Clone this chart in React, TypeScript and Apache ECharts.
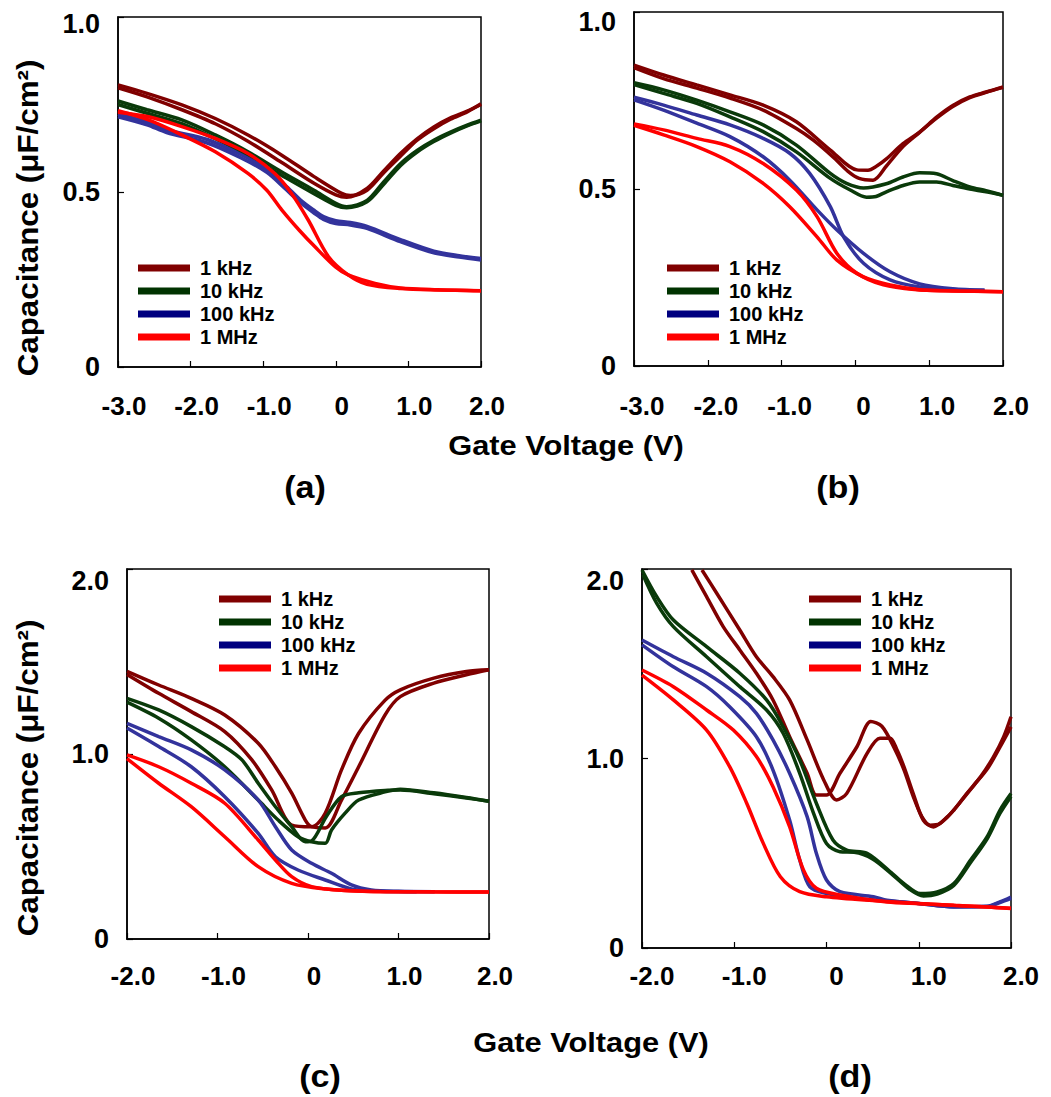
import React, { useEffect, useRef } from 'react';
import * as echarts from 'echarts';

// ---------- labels ----------
const FREQS = ['1 kHz', '10 kHz', '100 kHz', '1 MHz'];
const CURVE_COLORS = ['#800000', '#0a3a0a', '#33339c', '#ff0000'];
const LEGEND_COLORS = ['#800000', '#003300', '#000080', '#ff0000'];
const X_TICKS_TOP = ['-3.0', '-2.0', '-1.0', '0', '1.0', '2.0'];
const X_TICKS_BOTTOM = ['-2.0', '-1.0', '0', '1.0', '2.0'];
const Y_TICKS_TOP = ['0', '0.5', '1.0'];
const Y_TICKS_BOTTOM = ['0', '1.0', '2.0'];
const Y_NAME = 'Capacitance (\u03bcF/cm\u00b2)';
const X_NAME = 'Gate Voltage (V)';
const PANEL_TAGS = ['(a)', '(b)', '(c)', '(d)'];

// ---------- panel (a) ----------
const a1kA = [[-3, 0.806], [-2.6, 0.782], [-2.12, 0.749], [-1.66, 0.71], [-1.21, 0.663], [-0.75, 0.606], [-0.3, 0.544], [0.08, 0.496], [0.2, 0.49], [0.43, 0.505], [0.66, 0.555], [0.89, 0.602], [1.12, 0.648], [1.35, 0.681], [1.58, 0.708], [1.81, 0.729], [2.0, 0.752]];
const a1kB = [[-3, 0.798], [-2.6, 0.772], [-2.12, 0.735], [-1.66, 0.695], [-1.21, 0.645], [-0.75, 0.585], [-0.3, 0.525], [0, 0.492], [0.15, 0.485], [0.43, 0.51], [0.66, 0.56], [0.89, 0.61], [1.12, 0.652], [1.35, 0.686], [1.58, 0.712], [1.81, 0.731], [2.0, 0.75]];
const a10kA = [[-3, 0.76], [-2.6, 0.735], [-2.12, 0.706], [-1.66, 0.663], [-1.21, 0.615], [-0.75, 0.558], [-0.3, 0.505], [0, 0.468], [0.15, 0.458], [0.43, 0.476], [0.66, 0.529], [0.89, 0.581], [1.12, 0.619], [1.35, 0.648], [1.58, 0.671], [1.8, 0.69], [2.0, 0.705]];
const a10kB = [[-3, 0.75], [-2.6, 0.725], [-2.12, 0.695], [-1.66, 0.652], [-1.21, 0.603], [-0.75, 0.548], [-0.3, 0.495], [0, 0.462], [0.15, 0.455], [0.43, 0.472], [0.66, 0.522], [0.89, 0.575], [1.12, 0.614], [1.35, 0.644], [1.58, 0.668], [1.8, 0.688], [2.0, 0.703]];
const a100kA = [[-3, 0.722], [-2.6, 0.7], [-2.33, 0.678], [-1.77, 0.65], [-1.31, 0.607], [-0.95, 0.565], [-0.7, 0.52], [-0.49, 0.478], [-0.3, 0.448], [-0.17, 0.43], [0.0, 0.418], [0.2, 0.413], [0.43, 0.402], [0.89, 0.364], [1.35, 0.331], [1.7, 0.318], [2.0, 0.31]];
const a100kB = [[-3, 0.715], [-2.6, 0.692], [-2.33, 0.67], [-1.77, 0.64], [-1.31, 0.598], [-0.95, 0.556], [-0.7, 0.51], [-0.49, 0.47], [-0.3, 0.44], [-0.17, 0.422], [0.0, 0.41], [0.2, 0.406], [0.43, 0.396], [0.89, 0.358], [1.35, 0.326], [1.7, 0.314], [2.0, 0.306]];
const a1MA = [[-3, 0.728], [-2.58, 0.715], [-2.12, 0.687], [-1.66, 0.653], [-1.21, 0.61], [-0.84, 0.553], [-0.61, 0.496], [-0.38, 0.42], [-0.1, 0.315], [0.17, 0.263], [0.43, 0.236], [0.89, 0.224], [1.4, 0.22], [2.0, 0.218]];
const a1MB = [[-3, 0.732], [-2.58, 0.706], [-2.12, 0.663], [-1.66, 0.615], [-1.21, 0.553], [-0.95, 0.505], [-0.745, 0.449], [-0.5, 0.39], [-0.29, 0.344], [0, 0.285], [0.17, 0.263], [0.54, 0.239], [0.89, 0.226], [1.4, 0.221], [2.0, 0.218]];

// ---------- panel (b) ----------
const b1kA = [[-3, 0.85], [-2.6, 0.822], [-2.15, 0.794], [-1.7, 0.766], [-1.25, 0.737], [-0.8, 0.69], [-0.34, 0.61], [0.02, 0.554], [0.17, 0.553], [0.29, 0.565], [0.42, 0.585], [0.645, 0.628], [0.87, 0.661], [1.1, 0.703], [1.32, 0.736], [1.55, 0.76], [1.77, 0.774], [2.0, 0.788]];
const b1kB = [[-3, 0.843], [-2.6, 0.812], [-2.15, 0.785], [-1.7, 0.757], [-1.25, 0.723], [-0.8, 0.671], [-0.57, 0.638], [-0.3, 0.59], [-0.1, 0.55], [0.05, 0.53], [0.24, 0.525], [0.42, 0.565], [0.645, 0.62], [0.87, 0.66], [1.1, 0.7], [1.32, 0.733], [1.55, 0.758], [1.77, 0.773], [2.0, 0.787]];
const b10kA = [[-3, 0.8], [-2.6, 0.78], [-2.15, 0.751], [-1.7, 0.718], [-1.25, 0.681], [-0.8, 0.624], [-0.34, 0.544], [-0.12, 0.516], [0.11, 0.503], [0.42, 0.515], [0.645, 0.534], [0.87, 0.546], [1.1, 0.543], [1.32, 0.524], [1.55, 0.506], [1.77, 0.495], [2.0, 0.482]];
const b10kB = [[-3, 0.795], [-2.6, 0.77], [-2.15, 0.742], [-1.7, 0.704], [-1.25, 0.662], [-0.8, 0.605], [-0.34, 0.53], [-0.07, 0.497], [0.15, 0.477], [0.28, 0.479], [0.42, 0.492], [0.645, 0.51], [0.87, 0.52], [1.1, 0.52], [1.32, 0.51], [1.55, 0.5], [1.77, 0.492], [2.0, 0.482]];
const b100kA = [[-3, 0.759], [-2.6, 0.737], [-2.15, 0.709], [-1.7, 0.681], [-1.25, 0.643], [-0.89, 0.601], [-0.62, 0.544], [-0.34, 0.45], [-0.16, 0.365], [0.11, 0.29], [0.47, 0.243], [0.87, 0.223], [1.32, 0.216], [1.75, 0.214]];
const b100kB = [[-3, 0.752], [-2.6, 0.723], [-2.15, 0.686], [-1.7, 0.648], [-1.25, 0.591], [-0.89, 0.525], [-0.52, 0.441], [-0.25, 0.384], [0.11, 0.318], [0.47, 0.266], [0.87, 0.232], [1.32, 0.218], [1.75, 0.214]];
const b1MA = [[-3, 0.684], [-2.6, 0.667], [-2.15, 0.643], [-1.7, 0.62], [-1.25, 0.572], [-0.8, 0.497], [-0.52, 0.422], [-0.25, 0.318], [0.02, 0.262], [0.38, 0.229], [0.8, 0.216], [1.3, 0.212], [2.0, 0.21]];
const b1MB = [[-3, 0.68], [-2.6, 0.653], [-2.15, 0.62], [-1.7, 0.577], [-1.25, 0.516], [-0.89, 0.45], [-0.52, 0.365], [-0.25, 0.299], [0.11, 0.252], [0.47, 0.229], [0.9, 0.215], [1.4, 0.212], [2.0, 0.21]];

// ---------- panel (c) ----------
const c1kA = [[-2, 1.447], [-1.65, 1.373], [-1.29, 1.301], [-0.92, 1.211], [-0.55, 1.058], [-0.36, 0.931], [-0.18, 0.788], [-0.03, 0.643], [0.04, 0.607], [0.19, 0.6], [0.37, 0.751], [0.56, 0.931], [0.85, 1.21], [1.02, 1.31], [1.39, 1.383], [1.75, 1.428], [2.0, 1.455]];
const c1kB = [[-2, 1.43], [-1.65, 1.328], [-1.29, 1.229], [-0.92, 1.121], [-0.62, 0.968], [-0.4, 0.805], [-0.18, 0.616], [0.04, 0.607], [0.19, 0.68], [0.37, 0.914], [0.56, 1.112], [0.85, 1.29], [1.02, 1.347], [1.39, 1.41], [1.75, 1.446], [2.0, 1.455]];
const c10kA = [[-2, 1.301], [-1.65, 1.238], [-1.29, 1.148], [-0.92, 1.039], [-0.73, 0.968], [-0.55, 0.842], [-0.36, 0.715], [-0.18, 0.607], [-0.03, 0.526], [0.04, 0.53], [0.2, 0.66], [0.37, 0.769], [0.56, 0.79], [0.85, 0.803], [1.02, 0.805], [1.39, 0.785], [1.75, 0.762], [2.0, 0.745]];
const c10kB = [[-2, 1.28], [-1.65, 1.193], [-1.29, 1.076], [-0.92, 0.931], [-0.55, 0.751], [-0.33, 0.643], [-0.11, 0.553], [0.04, 0.526], [0.19, 0.517], [0.26, 0.589], [0.41, 0.68], [0.56, 0.751], [0.85, 0.795], [1.02, 0.81], [1.39, 0.79], [1.75, 0.765], [2.0, 0.745]];
const c100kA = [[-2, 1.166], [-1.65, 1.094], [-1.29, 1.022], [-0.92, 0.914], [-0.55, 0.751], [-0.36, 0.607], [-0.18, 0.481], [0.04, 0.409], [0.26, 0.355], [0.48, 0.292], [0.7, 0.265], [1.0, 0.258], [1.4, 0.256]];
const c100kB = [[-2, 1.14], [-1.65, 1.04], [-1.29, 0.931], [-0.92, 0.769], [-0.55, 0.571], [-0.36, 0.445], [-0.11, 0.373], [0.19, 0.319], [0.5, 0.268], [0.8, 0.258], [1.2, 0.256]];
const c1MA = [[-2, 0.995], [-1.65, 0.931], [-1.29, 0.842], [-0.92, 0.734], [-0.55, 0.535], [-0.36, 0.427], [-0.18, 0.337], [0.04, 0.283], [0.4, 0.262], [0.8, 0.257], [1.4, 0.255], [2.0, 0.254]];
const c1MB = [[-2, 0.975], [-1.65, 0.842], [-1.29, 0.715], [-0.92, 0.553], [-0.55, 0.391], [-0.18, 0.301], [0.2, 0.27], [0.6, 0.258], [1.2, 0.255], [2.0, 0.254]];

// ---------- panel (d) ----------
const d1kA = [[-1.46, 1.995], [-1.3, 1.854], [-1.12, 1.696], [-0.94, 1.573], [-0.76, 1.45], [-0.58, 1.309], [-0.4, 1.115], [-0.21, 0.922], [-0.11, 0.807], [0.0, 0.807], [0.146, 0.922], [0.33, 1.062], [0.48, 1.195], [0.6, 1.17], [0.73, 1.06], [0.84, 0.94], [0.94, 0.8], [1.035, 0.692], [1.125, 0.648], [1.23, 0.657], [1.38, 0.727], [1.52, 0.815], [1.67, 0.903], [1.81, 1.009], [1.92, 1.114], [2.0, 1.22]];
const d1kB = [[-1.35, 1.995], [-1.19, 1.872], [-0.94, 1.678], [-0.76, 1.537], [-0.58, 1.432], [-0.4, 1.309], [-0.21, 1.098], [-0.03, 0.887], [0.11, 0.781], [0.22, 0.816], [0.44, 1.027], [0.58, 1.107], [0.69, 1.107], [0.76, 1.05], [0.84, 0.956], [0.94, 0.815], [1.05, 0.674], [1.16, 0.639], [1.31, 0.692], [1.45, 0.77], [1.6, 0.86], [1.75, 0.95], [1.88, 1.06], [2.0, 1.167]];
const d10kA = [[-2, 1.995], [-1.84, 1.854], [-1.66, 1.731], [-1.3, 1.59], [-0.94, 1.45], [-0.65, 1.309], [-0.47, 1.168], [-0.29, 0.992], [-0.11, 0.764], [0.07, 0.57], [0.22, 0.517], [0.44, 0.5], [0.72, 0.39], [0.84, 0.34], [1.017, 0.287], [1.2, 0.296], [1.38, 0.34], [1.56, 0.463], [1.74, 0.586], [1.88, 0.727], [2.0, 0.815]];
const d10kB = [[-1.99, 1.97], [-1.84, 1.819], [-1.66, 1.696], [-1.3, 1.537], [-0.94, 1.379], [-0.65, 1.256], [-0.47, 1.133], [-0.29, 0.922], [-0.14, 0.711], [0.0, 0.552], [0.146, 0.508], [0.3, 0.505], [0.5, 0.47], [0.72, 0.385], [0.9, 0.31], [1.05, 0.275], [1.2, 0.285], [1.38, 0.33], [1.56, 0.45], [1.74, 0.575], [1.88, 0.71], [2.0, 0.8]];
const d100kA = [[-2, 1.625], [-1.66, 1.537], [-1.3, 1.45], [-0.94, 1.326], [-0.76, 1.238], [-0.58, 1.098], [-0.4, 0.922], [-0.21, 0.693], [-0.11, 0.5], [0.0, 0.359], [0.146, 0.297], [0.51, 0.271], [0.656, 0.252], [1.017, 0.234], [1.38, 0.217], [1.74, 0.22], [1.88, 0.243], [2.0, 0.269]];
const d100kB = [[-2, 1.6], [-1.66, 1.484], [-1.3, 1.379], [-1.05, 1.273], [-0.76, 1.115], [-0.58, 0.939], [-0.4, 0.675], [-0.29, 0.464], [-0.18, 0.323], [0.0, 0.288], [0.35, 0.26], [0.7, 0.248], [1.0, 0.235], [1.38, 0.218], [1.74, 0.219], [1.88, 0.24], [2.0, 0.262]];
const d1MA = [[-2, 1.467], [-1.66, 1.379], [-1.3, 1.256], [-1.01, 1.15], [-0.76, 1.01], [-0.58, 0.851], [-0.4, 0.64], [-0.25, 0.412], [-0.11, 0.315], [0.146, 0.28], [0.656, 0.243], [1.017, 0.234], [1.38, 0.225], [1.74, 0.217], [2.0, 0.208]];
const d1MB = [[-2, 1.44], [-1.66, 1.309], [-1.3, 1.15], [-1.05, 0.957], [-0.865, 0.764], [-0.685, 0.552], [-0.5, 0.376], [-0.29, 0.297], [0.0, 0.27], [0.5, 0.25], [1.0, 0.235], [1.4, 0.224], [1.74, 0.217], [2.0, 0.21]];

// ---------- layout ----------
const FONT = '"Liberation Sans", Arial, Helvetica, sans-serif';

const PANELS = [
  { grid: { left: 118, top: 17, width: 363, height: 350 }, xMin: -3, xTicks: X_TICKS_TOP, yMax: 1, yInt: 0.5, yTicks: Y_TICKS_TOP, xMargin: 26, xPad: 12, yTopShift: 7, legend: { left: 138, top: 258 }, curves: [[a1kA, a1kB], [a10kA, a10kB], [a100kA, a100kB], [a1MA, a1MB]] },
  { grid: { left: 634, top: 12, width: 369, height: 354 }, xMin: -3, xTicks: X_TICKS_TOP, yMax: 1, yInt: 0.5, yTicks: Y_TICKS_TOP, xMargin: 27, xPad: 16, yTopShift: 10, legend: { left: 667, top: 258 }, curves: [[b1kA, b1kB], [b10kA, b10kB], [b100kA, b100kB], [b1MA, b1MB]] },
  { grid: { left: 127, top: 569, width: 362, height: 370 }, xMin: -2, xTicks: X_TICKS_BOTTOM, yMax: 2, yInt: 1, yTicks: Y_TICKS_BOTTOM, xMargin: 24, xPad: 12, yTopShift: 12, legend: { left: 219, top: 589 }, curves: [[c1kA, c1kB], [c10kA, c10kB], [c100kA, c100kB], [c1MA, c1MB]] },
  { grid: { left: 642, top: 569, width: 369, height: 379 }, xMin: -2, xTicks: X_TICKS_BOTTOM, yMax: 2, yInt: 1, yTicks: Y_TICKS_BOTTOM, xMargin: 15, xPad: 20, yTopShift: 12, legend: { left: 809, top: 589 }, curves: [[d1kA, d1kB], [d10kA, d10kB], [d100kA, d100kB], [d1MA, d1MB]] },
];

const TITLE_POS = [
  { x: 28, y: 218, kind: 'y' },
  { x: 28, y: 778, kind: 'y' },
  { x: 566, y: 445, kind: 'x' },
  { x: 591, y: 1042, kind: 'x' },
];
const TAG_POS = [[305, 488], [838, 488], [320, 1077], [850, 1077]];

function buildOption() {
  const grid: any[] = [];
  const xAxis: any[] = [];
  const yAxis: any[] = [];
  const legend: any[] = [];
  const series: any[] = [];

  PANELS.forEach((p, pi) => {
    grid.push({ ...p.grid, show: true, borderColor: '#000', borderWidth: 1.5, backgroundColor: 'transparent' });
    xAxis.push({
      gridIndex: pi, type: 'value', min: p.xMin, max: 2, interval: 1,
      axisLine: { show: true, onZero: false, lineStyle: { color: '#000', width: 1.5 } },
      axisTick: { show: true, inside: true, length: 6, lineStyle: { color: '#000', width: 1.2 } },
      splitLine: { show: false },
      axisLabel: {
        show: true, showMinLabel: true, showMaxLabel: true, margin: p.xMargin,
        fontSize: 26, fontWeight: 'bold', fontFamily: FONT, color: '#000',
        padding: [0, 0, 0, p.xPad],
        formatter: (v: number) => p.xTicks[Math.round(v - p.xMin)] ?? '',
      },
    });
    const yLabelStyle = { fontSize: 27, fontWeight: 'bold', fontFamily: FONT, color: '#000' };
    yAxis.push({
      gridIndex: pi, type: 'value', min: 0, max: p.yMax, interval: p.yInt,
      axisLine: { show: true, onZero: false, lineStyle: { color: '#000', width: 1.5 } },
      axisTick: { show: true, inside: true, length: 6, lineStyle: { color: '#000', width: 1.2 } },
      splitLine: { show: false },
      axisLabel: {
        show: true, showMinLabel: true, showMaxLabel: true, margin: 18,
        ...yLabelStyle,
        formatter: (v: number) => {
          const idx = Math.round(v / p.yInt);
          const s = p.yTicks[idx] ?? '';
          return idx === p.yTicks.length - 1 ? `{t|${s}}` : s;
        },
        rich: { t: { ...yLabelStyle, padding: [p.yTopShift * 2, 0, 0, 0] } },
      },
    });
    legend.push({
      orient: 'vertical', left: p.legend.left, top: p.legend.top, padding: 0,
      itemWidth: 52, itemHeight: 7, itemGap: 3, icon: 'rect', selectedMode: false,
      textStyle: { fontSize: 20, lineHeight: 20, fontWeight: 'bold', fontFamily: FONT, color: '#000', padding: [0, 0, 0, 5] },
      data: FREQS.map((n, i) => ({ name: n, itemStyle: { color: LEGEND_COLORS[i] } })),
    });
    p.curves.forEach((pair, fi) => {
      pair.forEach((data) => {
        series.push({
          type: 'line', name: FREQS[fi], xAxisIndex: pi, yAxisIndex: pi,
          data, showSymbol: false, symbol: 'none', smooth: 0.3, silent: true,
          lineStyle: { width: 3.5, color: CURVE_COLORS[fi] },
          itemStyle: { color: CURVE_COLORS[fi] },
          z: 2 + fi,
        });
      });
    });
  });

  const graphic: any[] = [];
  TITLE_POS.forEach((t) => {
    if (t.kind === 'y') {
      graphic.push({
        type: 'text', x: t.x, y: t.y, rotation: Math.PI / 2, scaleX: 1.08,
        style: { text: Y_NAME, fontSize: 29, fontWeight: 'bold', fontFamily: FONT, fill: '#000', align: 'center', verticalAlign: 'middle' },
      });
    } else {
      graphic.push({
        type: 'text', x: t.x, y: t.y, scaleX: 1.1,
        style: { text: X_NAME, fontSize: 28, fontWeight: 'bold', fontFamily: FONT, fill: '#000', align: 'center', verticalAlign: 'middle' },
      });
    }
  });
  TAG_POS.forEach(([x, y], i) => {
    graphic.push({
      type: 'text', x, y, scaleX: 1.1,
      style: { text: PANEL_TAGS[i], fontSize: 31, fontWeight: 'bold', fontFamily: FONT, fill: '#000', align: 'center', verticalAlign: 'middle' },
    });
  });

  return { animation: false, backgroundColor: '#fff', grid, xAxis, yAxis, legend, series, graphic };
}

export default function App() {
  const ref = useRef<HTMLDivElement>(null);
  useEffect(() => {
    document.body.style.margin = '0';
    document.body.style.overflow = 'hidden';
    if (!ref.current) return;
    const chart = echarts.init(ref.current, undefined, { renderer: 'svg' });
    chart.setOption(buildOption());
    return () => chart.dispose();
  }, []);
  return <div ref={ref} style={{ width: 1051, height: 1097 }} />;
}
